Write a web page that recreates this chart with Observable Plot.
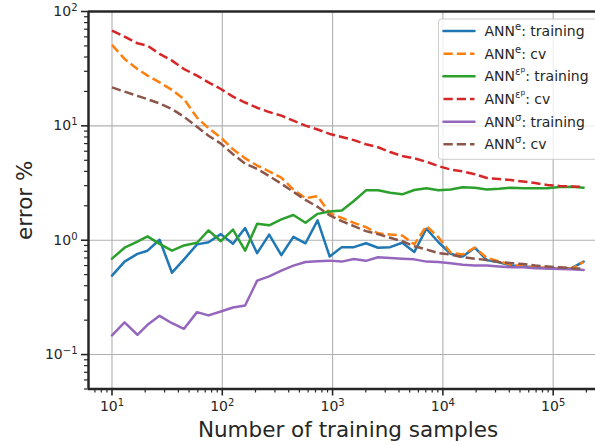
<!DOCTYPE html>
<html>
<head>
<meta charset="utf-8">
<script src="https://cdn.jsdelivr.net/npm/d3@7"></script>
<script src="https://cdn.jsdelivr.net/npm/@observablehq/plot@0.6"></script>
<style>
  html, body { margin: 0; padding: 0; background: #fff; overflow: hidden; }
  svg { display: block; }
</style>
</head>
<body>
<div id="chart"></div>
<script>
// Number of training samples (log-spaced)
const samples = [10, 13, 17, 21, 27, 35, 45, 59, 75, 97, 125, 161, 207, 266, 343, 441, 568, 731, 941, 1211,
  1559, 2007, 2583, 3325, 4280, 5508, 7090, 9126, 11747, 15121, 19463, 25052, 32247, 41509, 53430, 68775,
  88525, 113950, 146675, 188800];

// error % per sample count
const annETraining = [0.49, 0.65, 0.76, 0.81, 1.01, 0.52, 0.68, 0.92, 0.96, 1.13, 0.93, 1.28, 0.77, 1.12, 0.74,
  1.07, 0.94, 1.49, 0.72, 0.87, 0.87, 0.94, 0.86, 0.87, 0.95, 0.79, 1.26, 0.96, 0.76, 0.72, 0.86, 0.67, 0.64,
  0.60, 0.59, 0.58, 0.57, 0.57, 0.57, 0.65];
const annECv = [51, 38.5, 31.4, 27.5, 24, 20.6, 17.1, 11.8, 9.55, 7.9, 6.24, 5.2, 4.5, 4.0, 3.52, 2.78, 2.33,
  2.43, 1.72, 1.57, 1.42, 1.30, 1.15, 1.12, 1.10, 0.92, 1.33, 1.06, 0.78, 0.75, 0.86, 0.70, 0.654, 0.61, 0.59,
  0.58, 0.575, 0.565, 0.565, 0.645];
const annEpTraining = [0.69, 0.86, 0.97, 1.08, 0.93, 0.81, 0.90, 0.95, 1.22, 0.98, 1.24, 0.81, 1.39, 1.35, 1.52,
  1.66, 1.42, 1.70, 1.78, 1.82, 2.20, 2.73, 2.74, 2.60, 2.52, 2.75, 2.85, 2.74, 2.78, 2.90, 2.88, 2.78, 2.82,
  2.88, 2.85, 2.85, 2.85, 2.92, 2.94, 2.88];
const annEpCv = [68, 60.4, 52.7, 50.3, 42.6, 37.2, 31.4, 27.5, 24, 21, 18, 16, 14.4, 13.2, 12.3, 11.1, 10.05,
  9.3, 8.5, 8.0, 7.5, 6.9, 6.5, 5.9, 5.45, 5.2, 4.85, 4.45, 4.15, 4.0, 3.78, 3.5, 3.43, 3.36, 3.26, 3.16, 3.04,
  2.98, 2.95, 2.92];
const annSigmaTraining = [0.147, 0.191, 0.149, 0.182, 0.218, 0.188, 0.168, 0.235, 0.22, 0.238, 0.258, 0.269,
  0.443, 0.483, 0.542, 0.60, 0.645, 0.654, 0.663, 0.65, 0.686, 0.66, 0.71, 0.70, 0.69, 0.68, 0.65, 0.645, 0.63,
  0.61, 0.60, 0.60, 0.59, 0.58, 0.58, 0.57, 0.565, 0.56, 0.557, 0.55];
const annSigmaCv = [21.7, 19.9, 18.3, 17.1, 15.7, 14.0, 12.0, 9.8, 8.2, 7.0, 5.65, 4.67, 4.2, 3.64, 3.12, 2.65,
  2.25, 1.96, 1.65, 1.47, 1.33, 1.20, 1.13, 1.05, 0.98, 0.886, 0.83, 0.77, 0.75, 0.71, 0.69, 0.67, 0.645, 0.63,
  0.62, 0.60, 0.59, 0.58, 0.57, 0.565];

// Tick values
const xMajorTicks = [1e1, 1e2, 1e3, 1e4, 1e5];
const yMajorTicks = [1e-1, 1e0, 1e1, 1e2];

// Series: legend label parts (base, superscript, nested superscript, suffix)
const seriesLabels = [
  ["ANN", "e", "", ": training"],
  ["ANN", "e", "", ": cv"],
  ["ANN", "ε", "p", ": training"],
  ["ANN", "ε", "p", ": cv"],
  ["ANN", "σ", "", ": training"],
  ["ANN", "σ", "", ": cv"]
];
const seriesValues = [annETraining, annECv, annEpTraining, annEpCv, annSigmaTraining, annSigmaCv];

// Styling
const colors = ["#1f77b4", "#ff7f0e", "#2ca02c", "#d62728", "#9467bd", "#8c564b"];
const dashed = [false, true, false, true, false, true];
const DASH = "9.25,4";
const INK = "#262626";
const GRID = "#b0b0b0";
const LW = 2.5;

const W = 595, H = 445;
const mL = 88, mR = 0, mT = 11, mB = 56.5;
const xDomain = [Math.pow(10, 0.787), Math.pow(10, 5.3836)];
const yDomain = [0.05, 100];

// minor ticks 2..9 × 10^k inside the domain
function minorTicks(lo, hi) {
  const out = [];
  for (let e = Math.floor(Math.log10(lo)); e <= Math.ceil(Math.log10(hi)); e++) {
    for (let m = 2; m <= 9; m++) {
      const v = m * Math.pow(10, e);
      if (v >= lo && v <= hi) out.push(v);
    }
  }
  return out;
}
const xMinor = minorTicks(xDomain[0], xDomain[1]);
const yMinor = minorTicks(yDomain[0], yDomain[1]);
const powerLabel = d => `10^${Math.round(Math.log10(d))}`;

const lineMarks = seriesValues.map((vals, i) =>
  Plot.line(samples, {
    x: d => d,
    y: (d, j) => vals[j],
    stroke: colors[i],
    strokeWidth: LW,
    strokeDasharray: dashed[i] ? DASH : null,
    strokeLinecap: dashed[i] ? "butt" : "round",
    strokeLinejoin: "round"
  })
);

const chart = Plot.plot({
  width: W,
  height: H,
  marginLeft: mL,
  marginRight: mR,
  marginTop: mT,
  marginBottom: mB,
  style: {fontFamily: "'DejaVu Sans', sans-serif", background: "#fff", color: INK, overflow: "visible"},
  x: {type: "log", domain: xDomain},
  y: {type: "log", domain: yDomain},
  marks: [
    Plot.gridX(xMajorTicks, {stroke: GRID, strokeOpacity: 1, strokeWidth: 1.1}),
    Plot.gridY(yMajorTicks, {stroke: GRID, strokeOpacity: 1, strokeWidth: 1.1}),
    ...lineMarks,
    // spines: left, bottom, top
    Plot.ruleX([xDomain[0]], {stroke: INK, strokeWidth: 2.5}),
    Plot.ruleY([yDomain[0]], {stroke: INK, strokeWidth: 2.5}),
    Plot.ruleY([yDomain[1]], {stroke: INK, strokeWidth: 2.5}),
    // ticks
    Plot.axisX(xMinor, {anchor: "bottom", tickSize: 4, strokeWidth: 1.2, tickFormat: () => "", label: null}),
    Plot.axisX(xMajorTicks, {anchor: "bottom", tickSize: 7, tickPadding: 5, strokeWidth: 1.6, fontSize: 14,
      tickFormat: powerLabel, label: null}),
    Plot.axisY(yMinor, {anchor: "left", tickSize: 4, strokeWidth: 1.2, tickFormat: () => "", label: null}),
    Plot.axisY(yMajorTicks, {anchor: "left", tickSize: 7, tickPadding: 4, strokeWidth: 1.6, fontSize: 14,
      tickFormat: powerLabel, label: null}),
    // axis titles
    Plot.text(["Number of training samples"], {frameAnchor: "bottom", text: d => d, dx: 6, dy: 48,
      fontSize: 21.5, fill: INK, textAnchor: "middle"}),
    Plot.text(["error %"], {frameAnchor: "left", text: d => d, dx: -63, rotate: -90,
      fontSize: 21.5, fill: INK, textAnchor: "middle"})
  ]
});

// Render exponents of "10^k" tick labels as superscripts
d3.select(chart).selectAll("text").each(function () {
  const m = /^10\^(-?\d+)$/.exec(this.textContent);
  if (!m) return;
  const t = d3.select(this);
  t.text("10");
  t.append("tspan")
    .attr("dy", "-5")
    .attr("font-size", "10")
    .text(m[1].replace("-", "\u2212"));
});

// Legend
const svg = d3.select(chart);
const leg = svg.append("g")
  .attr("font-family", "'DejaVu Sans', sans-serif")
  .attr("font-size", 14)
  .attr("text-anchor", "start");
leg.append("rect")
  .attr("x", 438.5).attr("y", 19).attr("width", 170).attr("height", 140.3).attr("rx", 3)
  .attr("fill", "#fff").attr("fill-opacity", 0.8).attr("stroke", "#cccccc").attr("stroke-width", 1);
seriesLabels.forEach((parts, i) => {
  const y = 31 + i * 22.66;
  leg.append("line")
    .attr("x1", 443.5).attr("x2", 474.5).attr("y1", y).attr("y2", y)
    .attr("stroke", colors[i]).attr("stroke-width", LW)
    .attr("stroke-dasharray", dashed[i] ? DASH : null)
    .attr("stroke-linecap", dashed[i] ? "butt" : "round");
  const t = leg.append("text")
    .attr("x", 484.5).attr("y", y + 5.1)
    .attr("fill", INK).attr("text-anchor", "start");
  t.append("tspan").text(parts[0]);
  let rise = 6;
  t.append("tspan").attr("dy", -rise).attr("font-size", 10).text(parts[1]);
  if (parts[2]) {
    t.append("tspan").attr("dy", -3.5).attr("font-size", 7.5).text(parts[2]);
    rise += 3.5;
  }
  t.append("tspan").attr("dy", rise).text(parts[3]);
});

document.getElementById("chart").append(chart);
</script>
</body>
</html>
